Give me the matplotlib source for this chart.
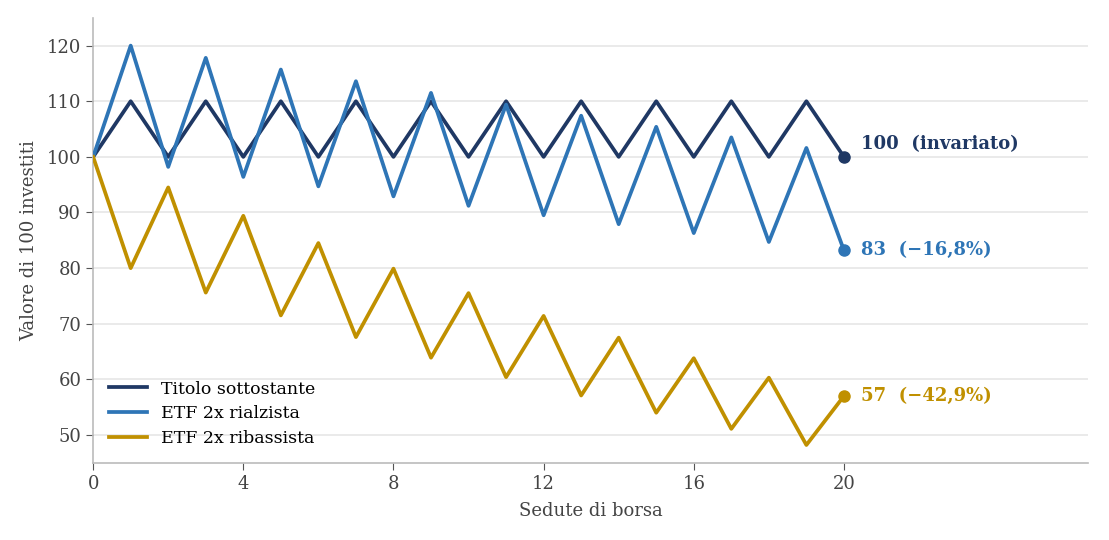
import matplotlib
matplotlib.use("Agg")
import matplotlib.pyplot as plt

sedute = list(range(21))
titolo = [100, 110, 100, 110, 100, 110, 100, 110, 100, 110, 100,
          110, 100, 110, 100, 110, 100, 110, 100, 110, 100]
etf_rialzo = [100, 120, 98.2, 117.8, 96.4, 115.7, 94.7, 113.6, 92.9, 111.5, 91.2,
              109.4, 89.5, 107.4, 87.9, 105.4, 86.3, 103.5, 84.7, 101.6, 83.2]
etf_ribasso = [100, 80, 94.5, 75.6, 89.4, 71.5, 84.5, 67.6, 79.9, 63.9, 75.5,
               60.4, 71.4, 57.1, 67.5, 54.0, 63.8, 51.1, 60.3, 48.2, 57.0]
etichette = ["100  (invariato)", "83  (\u221216,8%)", "57  (\u221242,9%)"]
nomi = ["Titolo sottostante", "ETF 2x rialzista", "ETF 2x ribassista"]
colori = ["#1f3864", "#2e75b6", "#c09000"]
spost_y = [9, 0, 0]  # text offset in points

plt.rcParams['font.family'] = 'DejaVu Serif'

fig = plt.figure(figsize=(11.09, 5.4), dpi=100)
ax = fig.add_axes([0.084, 0.143, 0.897, 0.824])

for serie, nome, col, lab, dy in zip([titolo, etf_rialzo, etf_ribasso], nomi, colori, etichette, spost_y):
    ax.plot(sedute, serie, color=col, lw=2.7, label=nome, zorder=3)
    ax.plot(sedute[-1], serie[-1], 'o', color=col, ms=8, zorder=4)
    ax.annotate(lab, (sedute[-1], serie[-1]), xytext=(12, dy), textcoords='offset points',
                color=col, fontsize=13, fontweight='bold', va='center', ha='left')

ax.set_xlim(0, 26.5)
ax.set_ylim(45, 125)
ax.set_xticks([0, 4, 8, 12, 16, 20])
ax.set_yticks([50, 60, 70, 80, 90, 100, 110, 120])
ax.grid(axis='y', color='#e6e6e6', lw=1.2)
ax.set_axisbelow(True)
for s in ['top', 'right']:
    ax.spines[s].set_visible(False)
for s in ['left', 'bottom']:
    ax.spines[s].set_color('#bbbbbb')
    ax.spines[s].set_linewidth(1.2)
ax.tick_params(colors='#555555', labelsize=13, length=5, labelcolor='#444444')
ax.set_xlabel("Sedute di borsa", fontsize=13, color='#444444', labelpad=7)
ax.set_ylabel("Valore di 100 investiti", fontsize=13, color='#444444', labelpad=6)

ax.legend(loc='lower left', frameon=False, fontsize=12.5, handlelength=2.2,
          borderaxespad=0.5, labelspacing=0.45)

fig.savefig("out.png", dpi=100)
